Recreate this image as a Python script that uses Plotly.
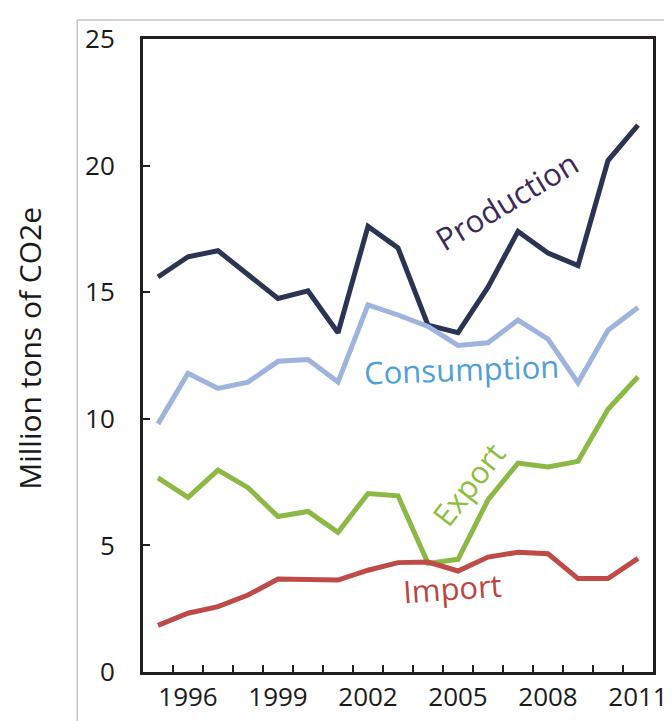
import plotly.graph_objects as go

years = list(range(1995, 2012))
production = [15.6, 16.4, 16.64, 15.7, 14.75, 15.05, 13.4, 17.6, 16.75, 13.7, 13.4, 15.2, 17.4, 16.55, 16.05, 20.2, 21.6]
consumption = [9.8, 11.8, 11.2, 11.45, 12.27, 12.34, 11.45, 14.5, 14.1, 13.65, 12.9, 13.0, 13.9, 13.15, 11.42, 13.5, 14.4]
export = [7.67, 6.9, 7.97, 7.28, 6.14, 6.34, 5.52, 7.05, 6.96, 4.29, 4.45, 6.8, 8.25, 8.1, 8.32, 10.38, 11.66]
imports = [1.84, 2.32, 2.58, 3.04, 3.67, 3.67, 3.63, 4.02, 4.32, 4.34, 3.99, 4.54, 4.73, 4.67, 3.69, 3.69, 4.49]

x_tick_years = [1996, 1999, 2002, 2005, 2008, 2011]
y_ticks = [0, 5, 10, 15, 20, 25]
y_title = "Million tons of CO2e"

series = [
    ("Production", production, "#2B3452"),
    ("Consumption", consumption, "#9EB3DD"),
    ("Export", export, "#8CB845"),
    ("Import", imports, "#BF4B48"),
]

fig = go.Figure()
for name, vals, col in series:
    fig.add_trace(go.Scatter(x=years, y=vals, mode="lines", name=name,
                             line=dict(color=col, width=5), showlegend=False))

font_family = "Open Sans"
labels = [
    ("Production", 2006.6, 18.6, -31, "#3B2A58"),
    ("Consumption", 2005.1, 11.95, -2, "#4FA0D8"),
    ("Export", 2005.35, 7.42, -52, "#8CBF3F"),
    ("Import", 2004.8, 3.3, -4, "#C0433F"),
]
for txt, ax_, ay_, ang, col in labels:
    fig.add_annotation(x=ax_, y=ay_, xref="x", yref="y", text=txt, showarrow=False,
                       textangle=ang, font=dict(family=font_family, size=31, color=col))

# y-axis title
fig.add_annotation(x=-0.223, y=0.511, xref="paper", yref="paper", text=y_title,
                   showarrow=False, textangle=-90, xanchor="center", yanchor="middle",
                   font=dict(family=font_family, size=30, color="#1A1A1A"))

# faint outer image border
fig.add_shape(type="line", xref="paper", yref="paper", x0=-0.129, x1=1.2, y0=1.03, y1=1.03,
              line=dict(color="#C8C4C0", width=1.5))
fig.add_shape(type="line", xref="paper", yref="paper", x0=-0.129, x1=-0.129, y0=-0.2, y1=1.03,
              line=dict(color="#C8C4C0", width=1.5))

fig.update_layout(
    width=672, height=721,
    margin=dict(l=135, r=26, t=20, b=57),
    plot_bgcolor="white", paper_bgcolor="white",
    font=dict(family=font_family, color="#1A1A1A"),
)
fig.update_xaxes(
    range=[1994.5, 2011.5], tickmode="array", tickvals=x_tick_years,
    ticktext=[str(y) for y in x_tick_years], ticks="", showgrid=False, zeroline=False,
    showline=True, linecolor="#231F20", linewidth=3, mirror=True,
    tickfont=dict(size=26, color="#1A1A1A"), ticklabeloverflow="allow",
    minor=dict(tickvals=[y + 0.5 for y in years[:-1]], ticks="inside", ticklen=7,
               tickwidth=2, tickcolor="#231F20", showgrid=False),
)
fig.update_yaxes(
    range=[0, 25], tickmode="array", tickvals=y_ticks, ticks="inside", ticklen=7,
    tickwidth=2, tickcolor="#231F20", showgrid=False, zeroline=False,
    showline=True, linecolor="#231F20", linewidth=3, mirror=True,
    tickfont=dict(size=26, color="#1A1A1A"), ticklabelstandoff=20,
)

fig.write_html("out.html")
